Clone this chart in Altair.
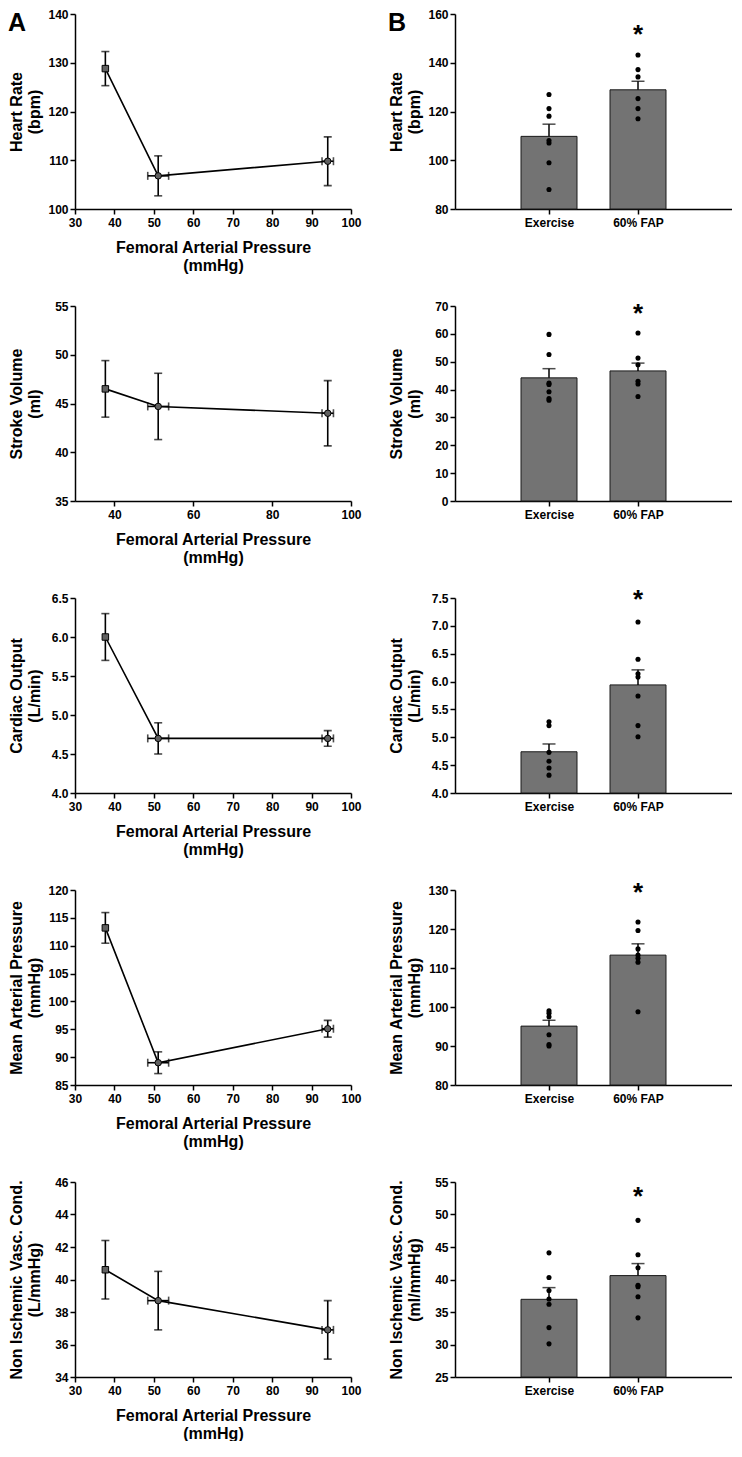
import altair as alt
import pandas as pd

FONT = "Liberation Sans"

# ---------------- Panel A (left): values vs femoral arterial pressure ----------------
fap_x = [37.7, 51.1, 94.1]
fap_xerr = [0.0, 2.65, 1.45]
marker_kind = ["square", "circle", "circle"]

hr_mean = [128.8, 106.8, 109.8]
hr_se = [3.5, 4.1, 5.0]
sv_mean = [46.5, 44.7, 44.0]
sv_se = [2.9, 3.4, 3.35]
co_mean = [6.0, 4.7, 4.7]
co_se = [0.3, 0.2, 0.1]
map_mean = [113.2, 89.0, 95.1]
map_se = [2.75, 1.95, 1.5]
nivc_mean = [40.6, 38.7, 36.9]
nivc_se = [1.8, 1.8, 1.8]

# ---------------- Panel B (right): Exercise vs 60% FAP ----------------
categories = ["Exercise", "60% FAP"]

hr_bar = [109.8, 128.9]
hr_bar_se = [5.0, 3.5]
hr_ex_dots = [127.0, 121.2, 118.1, 108.1, 107.1, 99.0, 88.0]
hr_fap_dots = [143.2, 137.2, 134.2, 125.3, 121.2, 117.0]

sv_bar = [44.2, 46.7]
sv_bar_se = [3.3, 2.8]
sv_ex_dots = [59.8, 52.6, 42.3, 41.8, 39.2, 36.8, 36.2]
sv_fap_dots = [60.3, 51.3, 48.9, 43.0, 42.0, 37.5]

co_bar = [4.74, 5.94]
co_bar_se = [0.14, 0.27]
co_ex_dots = [5.28, 5.21, 4.73, 4.57, 4.45, 4.32]
co_fap_dots = [7.07, 6.40, 6.14, 6.08, 5.74, 5.21, 5.01]

map_bar = [95.1, 113.3]
map_bar_se = [1.5, 2.9]
map_ex_dots = [99.0, 98.4, 97.5, 92.9, 90.4, 90.0]
map_fap_dots = [121.8, 119.6, 114.9, 113.3, 112.5, 111.5, 98.8]

nivc_bar = [36.95, 40.6]
nivc_bar_se = [1.8, 1.85]
nivc_ex_dots = [44.1, 40.3, 38.3, 37.0, 36.2, 32.6, 30.1]
nivc_fap_dots = [49.1, 43.8, 41.8, 39.1, 38.9, 37.35, 34.1]

star_y = [153.5, 69.0, 7.56, 130.5, 53.4]

LW = 1.6
H = 195
WL = 276
WR = 277


def left_panel(mean, se, ydom, yvals, ytitle, yfmt=None, xvals=None, tag=None):
    if xvals is None:
        xvals = list(range(30, 101, 10))
    df = pd.DataFrame({"x": fap_x, "xerr": fap_xerr, "y": mean, "se": se, "kind": marker_kind})
    df["ylo"] = df["y"] - df["se"]
    df["yhi"] = df["y"] + df["se"]
    df["xlo"] = df["x"] - df["xerr"]
    df["xhi"] = df["x"] + df["xerr"]

    ax_kw = dict(values=yvals, title=ytitle)
    if yfmt:
        ax_kw["format"] = yfmt
    yaxis = alt.Axis(**ax_kw)
    xaxis = alt.Axis(values=xvals, title=["Femoral Arterial Pressure", "(mmHg)"],
                     labelFlush=False, titlePadding=11)

    def X(f):
        return alt.X(f"{f}:Q", scale=alt.Scale(domain=[30, 100], nice=False, zero=False), axis=xaxis)

    def Y(f):
        return alt.Y(f"{f}:Q", scale=alt.Scale(domain=ydom, nice=False, zero=False), axis=yaxis)

    base = alt.Chart(df)
    line = base.mark_line(color="black", strokeWidth=LW).encode(x=X("x"), y=Y("y"), order="x:Q")
    yerr = base.mark_rule(color="black", strokeWidth=LW).encode(x=X("x"), y=Y("ylo"), y2="yhi:Q")
    ycap1 = base.mark_tick(orient="horizontal", size=8, thickness=LW, color="black").encode(x=X("x"), y=Y("yhi"))
    ycap2 = base.mark_tick(orient="horizontal", size=8, thickness=LW, color="black").encode(x=X("x"), y=Y("ylo"))
    fx = base.transform_filter("datum.xerr > 0")
    xerr = fx.mark_rule(color="black", strokeWidth=LW).encode(x=X("xlo"), x2="xhi:Q", y=Y("y"))
    xcap1 = fx.mark_tick(orient="vertical", size=8, thickness=LW, color="black").encode(x=X("xlo"), y=Y("y"))
    xcap2 = fx.mark_tick(orient="vertical", size=8, thickness=LW, color="black").encode(x=X("xhi"), y=Y("y"))
    pts = base.mark_point(size=42, filled=True, fill="#606060", stroke="black",
                          strokeWidth=1, opacity=1, fillOpacity=1).encode(
        x=X("x"), y=Y("y"),
        shape=alt.Shape("kind:N", scale=alt.Scale(domain=["square", "circle"], range=["square", "circle"]),
                        legend=None))
    layers = [line, yerr, ycap1, ycap2, xerr, xcap1, xcap2, pts]
    if tag:
        t = alt.Chart(pd.DataFrame({"t": [tag]})).mark_text(
            font=FONT, fontSize=25, fontWeight="bold", align="left", baseline="alphabetic", color="black"
        ).encode(text="t:N", x=alt.value(-67), y=alt.value(17))
        layers.append(t)
    return alt.layer(*layers).properties(width=WL, height=H)


def right_panel(bar, bar_se, ex_dots, fap_dots, ydom, yvals, ytitle, star, yfmt=None, tag=None):
    dfb = pd.DataFrame({"pos": [1, 2], "mean": bar, "se": bar_se})
    dfb["top"] = dfb["mean"] + dfb["se"]
    dfb["base"] = ydom[0]
    dfd = pd.DataFrame({"pos": [1] * len(ex_dots) + [2] * len(fap_dots), "value": ex_dots + fap_dots})
    dfs = pd.DataFrame({"pos": [2], "value": [star], "t": ["*"]})

    ax_kw = dict(values=yvals, title=ytitle)
    if yfmt:
        ax_kw["format"] = yfmt
    yaxis = alt.Axis(**ax_kw)
    xaxis = alt.Axis(values=[1, 2], title=None, labelFlush=False,
                     labelExpr="datum.value == 1 ? '" + categories[0] + "' : '" + categories[1] + "'")

    def X(f):
        return alt.X(f"{f}:Q", scale=alt.Scale(domain=[0, 3], nice=False, zero=False), axis=xaxis)

    def Y(f):
        return alt.Y(f"{f}:Q", scale=alt.Scale(domain=ydom, nice=False, zero=False), axis=yaxis)

    bars = alt.Chart(dfb).mark_bar(size=56, fill="#737373", stroke="#1a1a1a", strokeWidth=1).encode(
        x=X("pos"), y=Y("mean"), y2="base:Q")
    err = alt.Chart(dfb).mark_rule(color="black", strokeWidth=1.5).encode(x=X("pos"), y=Y("mean"), y2="top:Q")
    cap = alt.Chart(dfb).mark_tick(orient="horizontal", size=13, thickness=1.5, color="black").encode(
        x=X("pos"), y=Y("top"))
    dots = alt.Chart(dfd).mark_circle(size=26, color="black", opacity=1).encode(x=X("pos"), y=Y("value"))
    st = alt.Chart(dfs).mark_text(font=FONT, fontSize=26, fontWeight="bold", baseline="alphabetic",
                                  dy=13, color="black").encode(x=X("pos"), y=Y("value"), text="t:N")
    layers = [bars, err, cap, dots, st]
    if tag:
        t = alt.Chart(pd.DataFrame({"t": [tag]})).mark_text(
            font=FONT, fontSize=25, fontWeight="bold", align="left", baseline="alphabetic", color="black"
        ).encode(text="t:N", x=alt.value(-67), y=alt.value(17))
        layers.append(t)
    return alt.layer(*layers).properties(width=WR, height=H)


rows = [
    (left_panel(hr_mean, hr_se, [100, 140], [100, 110, 120, 130, 140], ["Heart Rate", "(bpm)"], tag="A"),
     right_panel(hr_bar, hr_bar_se, hr_ex_dots, hr_fap_dots, [80, 160], [80, 100, 120, 140, 160],
                 ["Heart Rate", "(bpm)"], star_y[0], tag="B")),
    (left_panel(sv_mean, sv_se, [35, 55], [35, 40, 45, 50, 55], ["Stroke Volume", "(ml)"],
                xvals=[40, 60, 80, 100]),
     right_panel(sv_bar, sv_bar_se, sv_ex_dots, sv_fap_dots, [0, 70], [0, 10, 20, 30, 40, 50, 60, 70],
                 ["Stroke Volume", "(ml)"], star_y[1])),
    (left_panel(co_mean, co_se, [4.0, 6.5], [4.0, 4.5, 5.0, 5.5, 6.0, 6.5], ["Cardiac Output", "(L/min)"],
                yfmt=".1f"),
     right_panel(co_bar, co_bar_se, co_ex_dots, co_fap_dots, [4.0, 7.5],
                 [4.0, 4.5, 5.0, 5.5, 6.0, 6.5, 7.0, 7.5], ["Cardiac Output", "(L/min)"], star_y[2],
                 yfmt=".1f")),
    (left_panel(map_mean, map_se, [85, 120], [85, 90, 95, 100, 105, 110, 115, 120],
                ["Mean Arterial Pressure", "(mmHg)"]),
     right_panel(map_bar, map_bar_se, map_ex_dots, map_fap_dots, [80, 130], [80, 90, 100, 110, 120, 130],
                 ["Mean Arterial Pressure", "(mmHg)"], star_y[3])),
    (left_panel(nivc_mean, nivc_se, [34, 46], [34, 36, 38, 40, 42, 44, 46],
                ["Non Ischemic Vasc. Cond.", "(L/mmHg)"]),
     right_panel(nivc_bar, nivc_bar_se, nivc_ex_dots, nivc_fap_dots, [25, 55], [25, 30, 35, 40, 45, 50, 55],
                 ["Non Ischemic Vasc. Cond.", "(ml/mmHg)"], star_y[4])),
]

hrows = [alt.hconcat(l, r, spacing=104, bounds="flush") for l, r in rows]

# with flush bounds the nested rows count as zero height, so spacing is the row pitch
chart = alt.vconcat(*hrows, spacing=292, bounds="flush", padding=0).configure_view(
    stroke=None
).configure_axis(
    grid=False,
    domainColor="black",
    domainWidth=1.5,
    tickColor="black",
    tickWidth=1.5,
    tickSize=5,
    labelFont=FONT,
    labelFontWeight="bold",
    labelFontSize=12,
    labelColor="black",
    titleFont=FONT,
    titleFontWeight="bold",
    titleFontSize=16,
    titleColor="black",
    titleLineHeight=18,
).configure_axisY(
    labelPadding=2,
    minExtent=28,
    maxExtent=28,
    titlePadding=5,
).configure_axisX(
    labelPadding=3,
)

chart.save("out.html", embed_options={"renderer": "svg", "actions": False})
